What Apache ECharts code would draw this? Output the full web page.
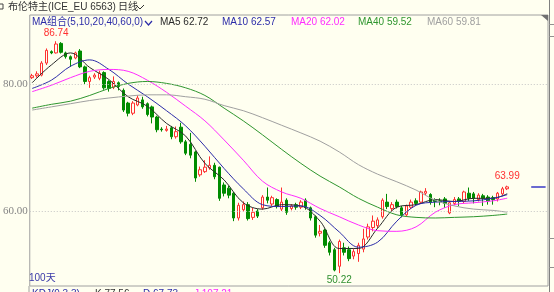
<!DOCTYPE html>
<html><head><meta charset="utf-8">
<script src="https://cdn.jsdelivr.net/npm/echarts@6/dist/echarts.min.js"></script>
<style>html,body{margin:0;padding:0;background:#fffff0;overflow:hidden}#c{width:554px;height:292px}</style>
</head><body><div id="c"></div>
<script>
// ---- data ----
const opens = [81.0,81.3,81.4,83.3,85.1,84.9,86.4,84.9,84.3,84.1,
85.2,82.7,80.4,81.1,80.9,81.8,80.4,79.5,80.2,79.0,
77.0,75.4,76.7,77.5,76.9,76.4,74.8,72.9,72.7,73.1,
71.7,73.2,70.9,70.5,69.3,65.7,66.2,66.8,67.2,66.9,
64.1,63.6,62.8,58.9,60.2,61.0,59.0,60.0,60.5,62.2,
61.1,61.8,60.3,61.7,60.4,61.0,60.6,61.7,60.5,59.1,
56.5,57.0,55.0,53.9,51.3,54.2,53.9,52.9,53.3,54.0,
55.9,57.4,57.7,59.1,61.4,60.4,61.4,60.5,59.4,60.6,
61.6,61.4,62.8,62.6,61.7,61.6,61.9,59.7,61.2,61.9,
61.5,62.8,62.7,61.8,62.4,62.2,62.1,61.9,62.7,63.5];
const closes = [81.3,81.6,83.3,85.3,84.9,86.3,85.0,84.3,83.9,84.9,
82.7,80.4,81.0,81.4,81.7,79.4,79.3,80.4,79.6,75.9,
75.4,77.0,77.8,76.4,75.2,74.8,72.8,72.8,72.9,71.7,
72.5,70.9,69.1,68.8,65.2,66.5,66.9,67.2,65.4,62.0,
62.8,62.5,58.9,60.9,61.0,58.8,59.8,59.2,62.2,61.7,
62.1,60.7,61.4,59.8,60.8,60.6,61.4,60.6,58.9,56.2,
56.8,54.6,53.5,50.7,55.2,53.5,52.5,53.6,54.6,55.6,
57.5,58.4,58.6,61.7,60.7,61.0,60.7,59.4,60.8,61.4,
61.2,63.0,63.1,61.4,61.5,61.5,61.2,61.3,61.8,61.5,
63.0,62.0,62.0,62.5,62.0,61.6,61.8,62.8,63.5,63.8];
const lows = [80.8,81.0,81.2,83.0,84.7,84.8,84.8,84.0,82.7,83.9,
82.5,80.0,79.4,80.8,80.6,79.1,78.8,79.2,79.0,75.6,
74.9,75.1,76.5,76.1,74.9,73.8,72.4,72.5,72.5,71.3,
71.4,70.6,68.8,68.3,64.6,65.4,66.0,66.5,65.0,61.6,
62.3,62.0,58.4,58.5,59.9,58.5,58.6,58.9,60.2,61.2,
60.8,60.4,60.0,59.4,60.1,60.2,60.3,60.2,58.5,55.8,
56.0,54.2,53.0,50.5,50.22,53.0,52.1,52.4,52.0,53.5,
55.5,56.8,57.3,58.8,60.3,60.0,60.4,59.0,59.1,60.3,
60.9,61.1,62.5,61.0,60.6,60.9,60.5,59.5,60.9,60.8,
61.2,61.6,61.2,61.5,60.8,61.0,61.0,61.5,62.5,63.3];
const highs = [81.6,82.0,83.6,85.6,85.3,86.74,86.6,85.1,84.5,85.1,
85.5,82.9,81.3,81.7,82.1,82.0,80.6,81.2,80.4,79.3,
77.2,77.3,78.2,78.0,77.1,76.6,75.0,73.2,73.4,73.4,
73.3,73.9,71.2,72.3,69.5,67.0,68.0,68.6,67.6,67.0,
64.5,64.0,63.0,61.3,61.5,61.4,60.5,60.3,62.5,63.7,
62.4,62.0,63.7,62.0,61.1,61.3,61.7,62.0,60.7,59.3,
57.8,57.2,55.3,54.2,55.5,55.0,54.4,54.0,55.0,57.2,
58.0,59.3,59.0,62.0,62.7,61.4,61.8,60.8,61.0,61.8,
62.0,63.2,63.6,62.8,62.0,62.0,62.2,61.6,62.2,62.2,
63.2,63.7,63.0,62.8,62.7,62.5,62.4,63.0,63.8,63.99];

// moving-average lines, read at every 4th bar
const maIndex = [0,4,8,12,16,20,24,28,32,36,40,44,48,52,56,60,64,68,72,76,80,84,88,92,96,99];
const ma5  = [80.2,83.0,84.9,82.6,80.7,78.0,76.5,73.8,71.8,67.5,64.9,61.3,60.3,61.0,60.8,58.4,54.1,54.1,57.3,60.6,61.0,61.8,61.5,62.0,62.0,62.72];
const ma10 = [79.3,80.6,82.8,83.8,82.3,80.0,78.0,75.8,73.4,70.2,66.7,63.5,61.0,60.7,60.8,59.3,56.7,54.3,55.1,58.4,60.9,61.4,61.5,61.6,62.0,62.57];
const ma20 = [78.8,79.8,81.0,82.0,82.3,82.0,80.6,78.7,76.5,74.2,71.2,68.0,64.7,63.0,62.0,60.4,59.1,57.8,56.9,56.8,57.5,59.8,61.0,61.3,61.6,62.02];
const ma40 = [76.2,76.8,77.3,78.2,79.3,80.1,80.4,80.1,79.4,78.2,76.2,74.2,72.0,69.7,67.5,65.5,63.8,62.0,60.6,59.4,59.0,58.9,59.0,59.1,59.3,59.52];
const ma60 = [75.9,76.4,76.9,77.4,77.8,78.1,78.3,78.3,78.0,77.6,76.6,75.8,74.7,73.5,72.3,71.0,69.3,67.3,65.8,64.6,63.3,61.7,60.8,60.3,60.1,59.81];

const yTicks = [60, 80];
const maNames = ['MA5','MA10','MA20','MA40','MA60'];
const maColors = ['#2a2a2a','#2c2ca8','#ff2cff','#2f962f','#a0a0a0'];

// ---- build ----
const slotCount = 108; // 100 bars + empty space on the right
const categories = Array.from({length: slotCount}, (_, i) => 'D' + (i + 1));
const kData = opens.map((o, i) => [o, closes[i], lows[i], highs[i]]);
const maSets = [ma5, ma10, ma20, ma40, ma60];

let maxI = 0, minI = 0;
highs.forEach((h, i) => { if (h > highs[maxI]) maxI = i; });
lows.forEach((l, i) => { if (l < lows[minI]) minI = i; });
const lastI = opens.length - 1;
const lastClose = closes[lastI];

const BG = '#fffff0';
const RED = '#ff3030';
const GREEN = '#008c00';
const FONT = '"Liberation Sans","Noto Sans CJK SC",sans-serif';

const chart = echarts.init(document.getElementById('c'), null, {renderer: 'canvas'});

const txt = (text, x, y, fill, size) => ({
  type: 'text', x: x, y: y, silent: true,
  style: {text: text, fill: fill, font: (size || 10) + 'px ' + FONT, verticalAlign: 'middle', textVerticalAlign: 'middle', align: 'left'}
});
const ln = (x1, y1, x2, y2, c) => ({type: 'line', silent: true, shape: {x1, y1, x2, y2}, style: {stroke: c, lineWidth: 1}});

const legendGraphics = [];
let lx = [160, 222, 291, 358, 427];
maNames.forEach((n, k) => {
  const arr = maSets[k];
  legendGraphics.push(txt(n + ' ' + arr[arr.length - 1].toFixed(2), lx[k], 22, maColors[k], 10));
});

const option = {
  animation: false,
  backgroundColor: BG,
  grid: {left: 29, top: 15, width: 519, height: 271, show: true, borderColor: '#a0a0a0', borderWidth: 1, backgroundColor: 'transparent'},
  xAxis: {
    type: 'category', data: categories, boundaryGap: true,
    axisLine: {show: false}, axisTick: {show: false}, axisLabel: {show: false}, splitLine: {show: false}
  },
  yAxis: {
    type: 'value', min: 48.19, max: 90.87, scale: true,
    axisLine: {show: false}, axisTick: {show: false, customValues: yTicks},
    splitLine: {show: false},
    axisLabel: {customValues: yTicks, formatter: v => v.toFixed(2), color: '#858585', fontSize: 11, fontFamily: '"Liberation Serif",serif', margin: 2}
  },
  series: [
    {
      type: 'candlestick', data: kData, barWidth: 3, z: 2,
      itemStyle: {color: BG, color0: GREEN, borderColor: RED, borderColor0: GREEN, borderWidth: 1},
      markLine: {
        silent: true, symbol: ['none', 'none'], label: {show: false},
        data: [
          {yAxis: yTicks[0], lineStyle: {color: '#c4c4c4', type: [1, 2], width: 1}},
          {yAxis: yTicks[1], lineStyle: {color: '#c4c4c4', type: [1, 2], width: 1}},
          [{coord: [categories[104], lastClose], lineStyle: {color: '#6a6ad0', width: 2, type: 'solid'}},
           {coord: [categories[107], lastClose]}]
        ]
      },
      markPoint: {
        silent: true, symbol: 'circle', symbolSize: 0,
        data: [
          {coord: [maxI, highs[maxI]], value: highs[maxI], label: {show: true, position: 'top', distance: 3, color: RED, fontSize: 10, fontFamily: FONT, formatter: p => p.value.toFixed(2)}},
          {coord: [minI, lows[minI]], value: lows[minI], label: {show: true, position: 'bottom', distance: 2, color: '#2f8f2f', fontSize: 10, fontFamily: FONT, formatter: p => p.value.toFixed(2)}},
          {coord: [lastI, highs[lastI]], value: highs[lastI], label: {show: true, position: 'top', distance: 4, color: RED, fontSize: 10, fontFamily: FONT, formatter: p => p.value.toFixed(2)}}
        ]
      }
    }
  ].concat(maSets.map((arr, k) => ({
    type: 'line', name: maNames[k], z: 3,
    data: arr.map((v, j) => [maIndex[j], v]),
    showSymbol: false, smooth: 0.35, silent: true,
    lineStyle: {color: maColors[k], width: 1}
  }))),
  graphic: [
    // header
    {type: 'rect', silent: true, shape: {x: -3, y: 4, width: 6, height: 5}, style: {fill: 'none', stroke: '#444', lineWidth: 1}},
    txt('布伦特主(ICE_EU 6563)', 8, 7, '#333333', 10),
    txt('日线', 118, 7, '#333333', 10),
    {type: 'polyline', silent: true, shape: {points: [[136, 5], [140, 9], [144, 5]]}, style: {stroke: '#333', lineWidth: 1, fill: 'none'}},
    // legend
    txt('MA组合(5,10,20,40,60,0)', 32, 22, '#2c2ca8', 10),
    {type: 'polyline', silent: true, shape: {points: [[145, 21], [148.5, 25], [152, 21]]}, style: {stroke: '#2c2ca8', lineWidth: 1.2, fill: 'none'}},
    ...legendGraphics,
    // bottom
    txt('100天', 29, 278, '#3a3aa8', 10),
    ln(29, 286, 29, 292, '#a0a0a0'),
    txt('KDJ(9,3,3)', 32, 294, '#2c2ca8', 10),
    txt('K 77.56', 95, 294, '#333333', 10),
    txt('D 67.73', 143, 294, '#2c2ca8', 10),
    txt('J 107.21', 194, 294, '#ff2cff', 10),
    // top-right corner marker and right panel edge
    {type: 'polygon', silent: true, shape: {points: [[541, 15], [548, 15], [548, 21]]}, style: {fill: '#707070'}},
    ln(549.5, 0, 549.5, 292, '#808080'),
    ln(549, 24.5, 554, 24.5, '#909090'),
    ln(549, 36.5, 554, 36.5, '#909090'),
    ln(549, 238.5, 554, 238.5, '#909090'),
    ln(549, 267.5, 554, 267.5, '#909090')
  ]
};
chart.setOption(option);
</script>
</body></html>
